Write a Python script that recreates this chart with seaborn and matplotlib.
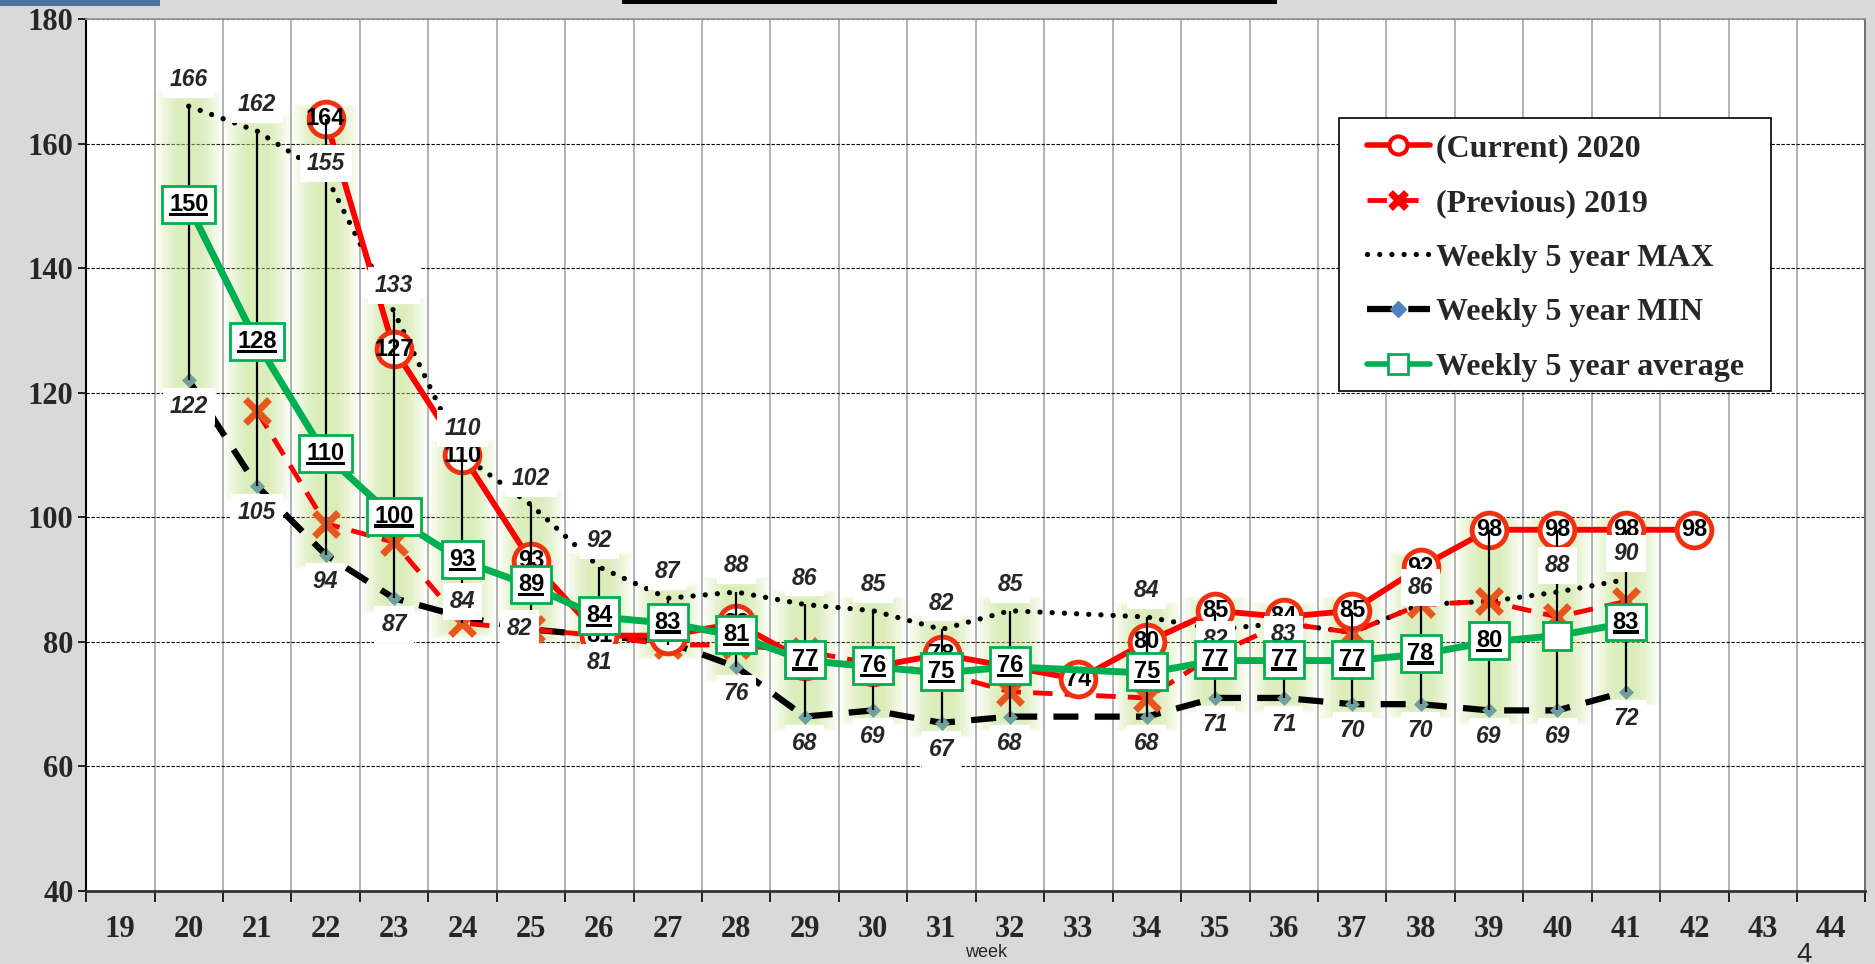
import numpy as np
import pandas as pd
import matplotlib
matplotlib.use("Agg")
import matplotlib.pyplot as plt
from matplotlib.lines import Line2D
from matplotlib.patches import Rectangle
from matplotlib.offsetbox import TextArea, DrawingArea, VPacker, AnnotationBbox
import seaborn as sns

nan = np.nan

# axis categories
weeks = list(range(19, 45))
data_weeks = list(range(20, 43))

# series (weeks 20..42)
current_2020 = [nan, nan, 164, 127, 110, 93, 81, 81, 83, 77, 76, 78, 76, 74, 80, 85, 84, 85, 92, 98, 98, 98, 98]
previous_2019 = [nan, 117, 99, 96, 83, 82, 81, 79.5, 79.5, 78.5, 76.5, 75, 72, nan, 71, 78, 83, 81.5, 86, 86.5, 84, 86.5, nan]
max_5y = [166, 162, 155, 133, 110, 102, 92, 87, 88, 86, 85, 82, 85, nan, 84, 82, 83, 81.5, 86, 86.5, 88, 90, nan]
min_5y = [122, 105, 94, 87, 84, 82, 81, 80, 76, 68, 69, 67, 68, nan, 68, 71, 71, 70, 70, 69, 69, 72, nan]
avg_5y = [150, 128, 110, 100, 93, 89, 84, 83, 81, 77, 76, 75, 76, nan, 75, 77, 77, 77, 78, 80, 81, 83, nan]

# labels not shown in the original (hidden behind other marks)
max_unlabeled = [37, 39]
min_unlabeled = [27]
avg_unlabeled = [40]

# labels that were dragged away from their default place (offset in points)
max_label_offset = {22: (0, 8), 35: (0, -7), 36: (0, -8), 38: (0, 12)}
min_label_offset = {24: (0, 11), 25: (-8, 1)}

legend_labels = ["(Current) 2020", "(Previous) 2019", "Weekly 5 year MAX",
                 "Weekly 5 year MIN", "Weekly 5 year average"]

RED = "#ff0000"
RED_EDGE = "#f0300f"
ORANGE = "#e8561e"
GREEN = "#00b050"
DIAMOND = "#6f9f9f"

df = pd.DataFrame({"week": data_weeks, "current": current_2020, "previous": previous_2019,
                   "max": max_5y, "min": min_5y, "avg": avg_5y})

sns.set_theme(style="white")
plt.rcParams["font.family"] = ["Liberation Sans", "DejaVu Sans"]

fig = plt.figure(figsize=(18.75, 9.64), dpi=100, facecolor="#d9d9d9")
ax = fig.add_axes([0.0459, 0.0757, 0.949, 0.9046])
ax.set_facecolor("white")


def draw(col, **kw):
    d = df.dropna(subset=[col])
    sns.lineplot(data=d, x="week", y=col, ax=ax, sort=False, estimator=None, legend=False, **kw)
    return d


# high-low lines span every series of the week (Excel style), with a soft green glow
series = df[["current", "previous", "max", "min", "avg"]]
hilo = pd.DataFrame({"week": df["week"], "hi": series.max(axis=1), "lo": series.min(axis=1),
                     "n": series.count(axis=1)})
hilo = hilo[hilo["n"] >= 2]
for w in np.linspace(0.95, 0.35, 10):
    ax.bar(hilo["week"], hilo["hi"] - hilo["lo"] + 5 * w, bottom=hilo["lo"] - 2.5 * w, width=w,
           color="#c5e38a", alpha=0.075, linewidth=0, zorder=1)

draw("min", color="black", lw=4.5, linestyle=(0, (4, 2.6)), marker="D", markersize=7,
     markerfacecolor=DIAMOND, markeredgecolor=DIAMOND, markeredgewidth=0.5, zorder=2.5)
draw("max", color="black", lw=3.8, linestyle=(0, (0.01, 2.3)), dash_capstyle="round",
     zorder=2.6)
draw("previous", color=RED, lw=3.5, linestyle=(0, (4, 2.5)), marker="x", markersize=17,
     markeredgecolor=ORANGE, markeredgewidth=5, zorder=3)
cur = draw("current", color=RED, lw=4.2, marker="o", markersize=25, markerfacecolor="white",
           markeredgecolor=RED_EDGE, markeredgewidth=3.5, zorder=4)

ax.vlines(hilo["week"], hilo["lo"], hilo["hi"], color="black", lw=1.6, zorder=5)

avg = draw("avg", color=GREEN, lw=5, marker="s", markersize=20, markerfacecolor="white",
           markeredgecolor=GREEN, markeredgewidth=2, zorder=7)

# labels
for w, v in zip(cur["week"], cur["current"]):
    ax.annotate(f"{v:g}", (w, v), ha="center", va="center", fontsize=17, fontweight="bold",
                color="black", zorder=6)

band = df.dropna(subset=["max", "min"])
for w, v in zip(band["week"], band["max"]):
    if w in max_unlabeled:
        continue
    ax.annotate(f"{round(v)}", (w, v), xytext=max_label_offset.get(w, (0, 19)),
                textcoords="offset points", ha="center", va="center", fontsize=16.5,
                fontweight="bold", style="italic",
                bbox=dict(boxstyle="square,pad=0.3", fc="white", ec="none"), zorder=6)

for w, v in zip(band["week"], band["min"]):
    if w in min_unlabeled:
        continue
    ax.annotate(f"{round(v)}", (w, v), xytext=min_label_offset.get(w, (0, -19)),
                textcoords="offset points", ha="center", va="center", fontsize=16.5,
                fontweight="bold", style="italic",
                bbox=dict(boxstyle="square,pad=0.3", fc="white", ec="none"), zorder=6)

for w, v in zip(avg["week"], avg["avg"]):
    if w in avg_unlabeled:
        continue
    txt = f"{round(v)}"
    ta = TextArea(txt, textprops=dict(fontsize=17, fontweight="bold", color="black",
                                      family="Liberation Sans"))
    uw = len(txt) * 0.556 * 17
    da = DrawingArea(uw, 2.5, 0, 0)
    da.add_artist(Rectangle((0, 0), uw, 2.5, fc="black", ec="none"))
    pack = VPacker(children=[ta, da], align="center", pad=0, sep=-2.5)
    ab = AnnotationBbox(pack, (w, v), frameon=True, box_alignment=(0.5, 0.45), fontsize=10,
                        bboxprops=dict(boxstyle="square,pad=0.5", ec=GREEN, fc="white", lw=2))
    ab.set_zorder(8)
    ax.add_artist(ab)

# axes
ax.set_xlim(18.5, 44.5)
ax.set_ylim(40, 180)
ax.set_yticks(range(40, 181, 20))
ax.set_xticks(weeks)
ax.set_xticks(np.arange(18.5, 45, 1), minor=True)
ax.set_xlabel("")
ax.set_ylabel("")
ax.tick_params(axis="x", which="major", length=0, pad=17)
ax.tick_params(axis="x", which="minor", length=8, width=1.2, color="black", direction="out",
               bottom=True)
ax.tick_params(axis="y", length=6, width=1.2, color="black", direction="out", pad=3, left=True)
ax.grid(axis="x", which="minor", color="#a6a6a6", lw=1.2, linestyle="-", zorder=0)
ax.grid(axis="x", which="major", visible=False)
ax.grid(axis="y", which="major", color="black", lw=0.8, linestyle=(0, (3, 1.5)), zorder=0)
ax.set_axisbelow(True)
for lab in ax.get_xticklabels() + ax.get_yticklabels():
    lab.set_family("Liberation Serif")
    lab.set_fontweight("bold")
    lab.set_fontsize(22)
ax.spines["left"].set_color("black")
ax.spines["left"].set_linewidth(1.5)
ax.spines["bottom"].set_color("#333333")
ax.spines["bottom"].set_linewidth(2)
ax.spines["top"].set_color("#999999")
ax.spines["right"].set_color("#666666")

# legend: frame drawn separately so the inner margins match the original
ax.add_patch(Rectangle((0.704, 0.573), 0.243, 0.313, transform=ax.transAxes, fc="white",
                       ec="black", lw=1.2, zorder=9.5))
handles = [
    Line2D([], [], color=RED, lw=4, marker="o", markersize=13, markerfacecolor="white",
           markeredgecolor=RED, markeredgewidth=3),
    Line2D([], [], color=RED, lw=3.5, linestyle=(0, (4, 2.5)), marker="x", markersize=11,
           markeredgecolor=RED, markeredgewidth=5),
    Line2D([], [], color="black", lw=3.8, linestyle=(0, (0.01, 2.3)), dash_capstyle="round"),
    Line2D([], [], color="black", lw=4.5, linestyle=(0, (4, 2.6)), marker="D", markersize=8,
           markerfacecolor="#4f81bd", markeredgecolor="#4f81bd"),
    Line2D([], [], color=GREEN, lw=4, marker="s", markersize=14, markerfacecolor="white",
           markeredgecolor=GREEN, markeredgewidth=2),
]
leg = ax.legend(handles, legend_labels, loc="upper left", bbox_to_anchor=(0.72, 0.868),
                borderaxespad=0, borderpad=0, frameon=False, handlelength=1.95,
                handletextpad=0.2, labelspacing=0.79,
                prop=dict(family="Liberation Serif", weight="bold", size=23))
leg.set_zorder(10)

# page decorations
fig.text(0.526, 0.012, "week", ha="center", va="center", fontsize=13)
fig.text(0.962, -0.004, "4", ha="center", va="bottom", fontsize=20)
fig.patches.append(Rectangle((622 / 1875, 1 - 4 / 964), 655 / 1875, 4 / 964,
                             transform=fig.transFigure, fc="black", ec="none"))
fig.patches.append(Rectangle((0, 1 - 6 / 964), 160 / 1875, 6 / 964,
                             transform=fig.transFigure, fc="#4f6f9f", ec="none"))

fig.savefig("out.png", dpi=100, facecolor=fig.get_facecolor())
